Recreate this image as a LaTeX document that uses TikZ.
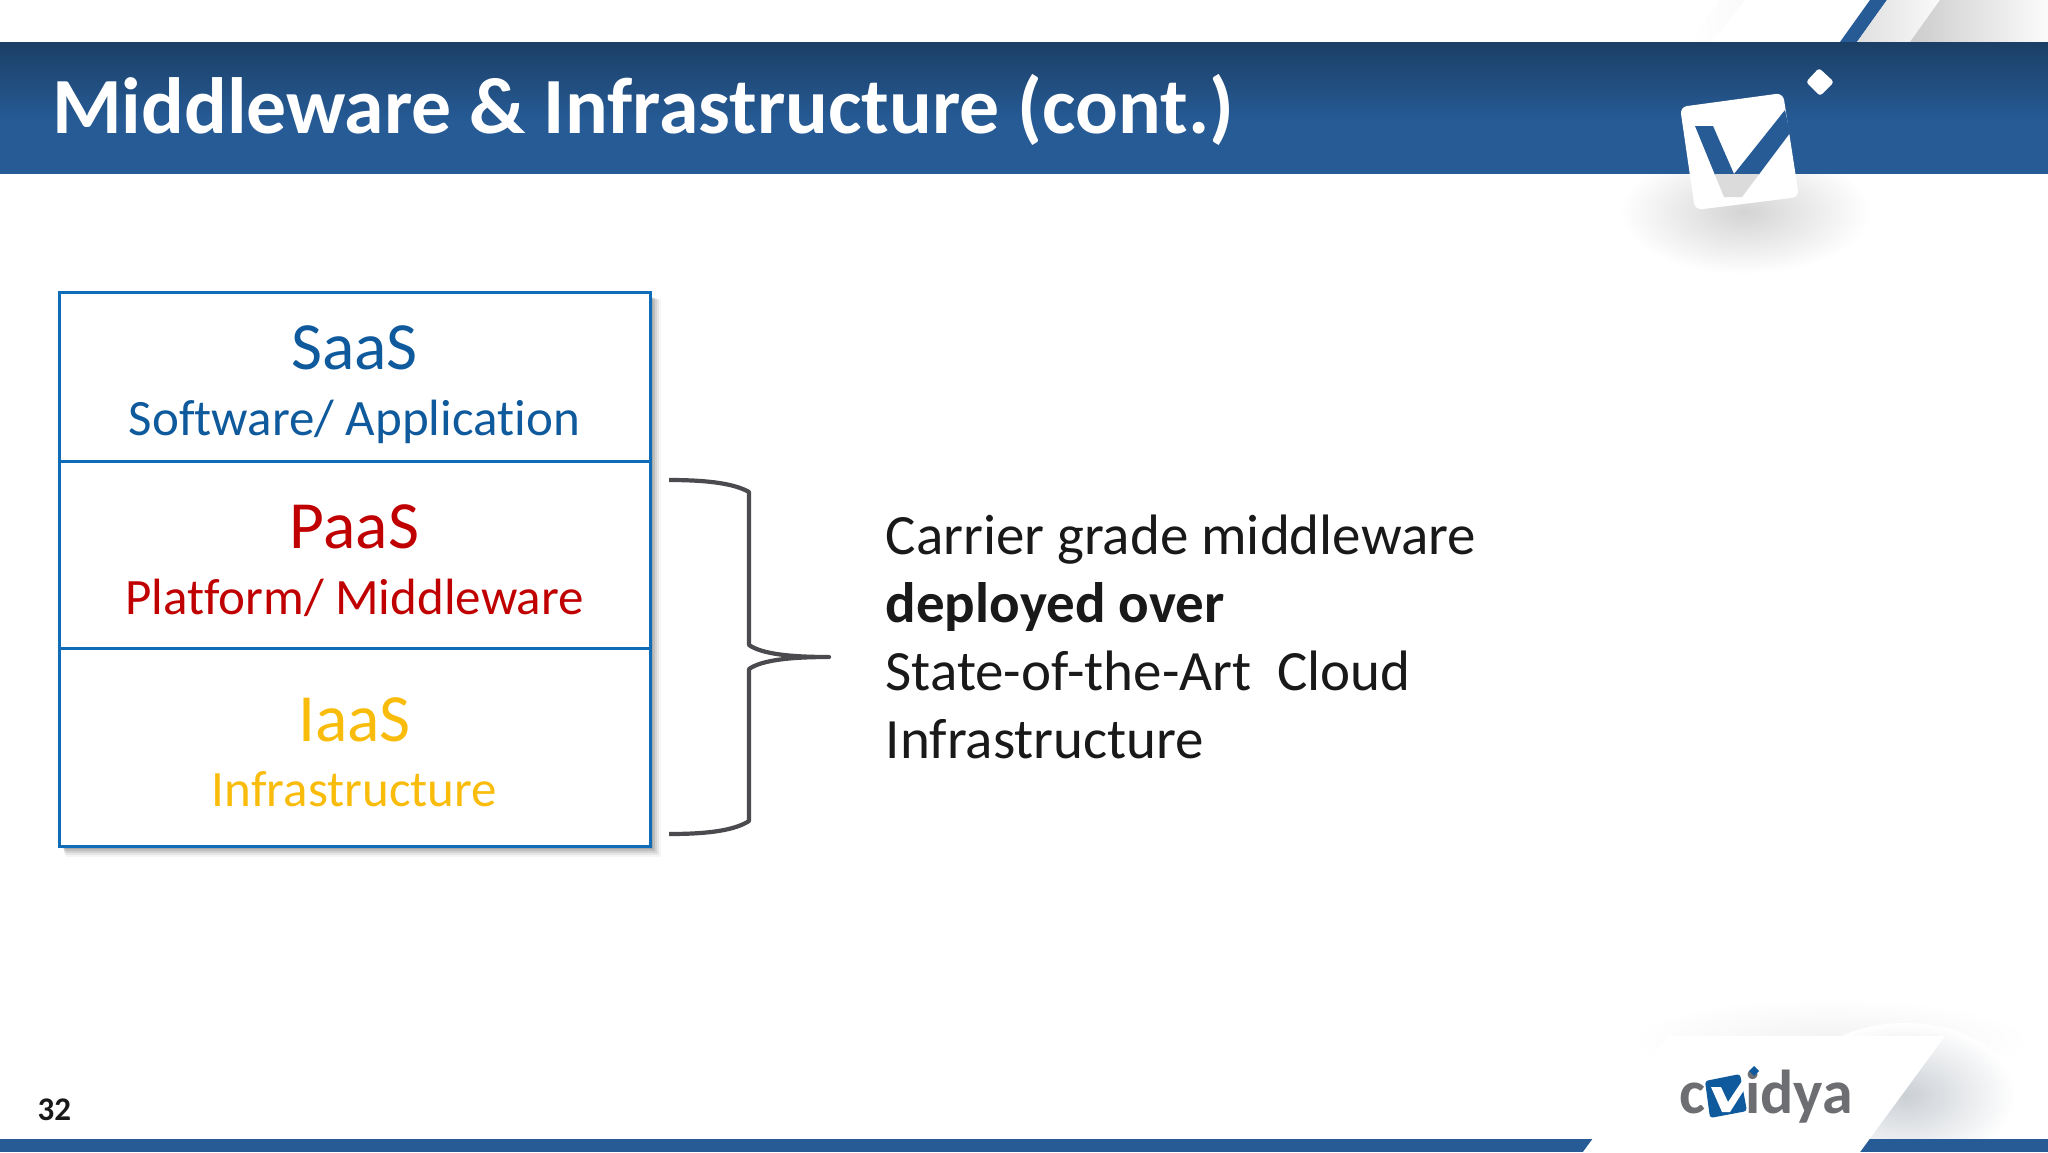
\documentclass[tikz,border=0pt]{standalone}
\usepackage{fontspec}
\setmainfont[Ligatures=NoCommon]{Carlito}
\usetikzlibrary{fadings}
\definecolor{hdrtop}{HTML}{1B3F66}
\definecolor{hdrmid}{HTML}{265B96}
\definecolor{boxline}{HTML}{0F6CB8}
\definecolor{saasc}{HTML}{0F5A9C}
\definecolor{paasc}{HTML}{C00000}
\definecolor{iaasc}{HTML}{F9BC0B}
\definecolor{bracec}{HTML}{4A4A4F}
\definecolor{logogray}{HTML}{6D6E71}
\newcommand{\fsz}[1]{\fontsize{#1}{#1}\selectfont}
\tikzset{
  x=1pt,y=-1pt,
  layerbox/.style={draw=boxline,line width=3.4pt,fill=white,inner sep=0pt},
  bigname/.style={anchor=base,font=\fsz{67.5}},
  subname/.style={anchor=base,font=\fsz{51}},
  bodytext/.style={anchor=base west,font=\fsz{57},text=black!90},
  bracepath/.style={draw=bracec,line width=4.2pt,line join=round},
}
\begin{document}
\begin{tikzpicture}
\useasboundingbox (0,0) rectangle (2048,1152);
\fill[white] (0,0) rectangle (2048,1152);
% top right streaks
\shade[left color=white,right color=gray!6] (1720,0) -- (1770,0) -- (1742,42) -- (1690,42) -- cycle;
\fill[white] (1745,0) -- (1870,0) -- (1840,42) -- (1712,42) -- cycle;
\fill[hdrmid] (1870,0) -- (1887,0) -- (1857,42) -- (1840,42) -- cycle;
\shade[left color=gray!25,right color=gray!4] (1887,0) -- (1940,0) -- (1910,42) -- (1857,42) -- cycle;
\shade[left color=gray!40,right color=gray!3] (1940,0) -- (2048,0) -- (2048,42) -- (1910,42) -- cycle;
% header band
\shade[top color=hdrtop,bottom color=hdrmid] (0,42) rectangle (2048,122);
\fill[hdrmid] (0,122) rectangle (2048,174);
% soft shadow under tick box
\begin{scope}
\clip (1560,174) rectangle (1960,290);
\shade[inner color=black!17,outer color=white] (1745,212) ellipse (125 and 62);
\end{scope}
% title
\node[anchor=base west,inner sep=0pt,font=\bfseries\fsz{79.7},text=white] (title) at (52,133) {Middleware \& Infrastructure (cont.)};
% tick box
\fill[white,rounded corners=7pt] (1680,107) -- (1783,93) -- (1799,197) -- (1695,210) -- cycle;
\begin{scope}
\clip (1600,42) rectangle (1900,174);
\fill[hdrmid] (1695,126) -- (1713,126) -- (1734,174) -- (1785,110) -- (1790,133) -- (1742,197) -- (1724,197) -- cycle;
\end{scope}
\begin{scope}
\clip (1600,174) rectangle (1900,220);
\fill[black!14] (1695,126) -- (1713,126) -- (1734,174) -- (1785,110) -- (1790,133) -- (1742,197) -- (1724,197) -- cycle;
\end{scope}
\fill[white,rounded corners=3pt] (1819,68) -- (1834,82) -- (1820,96) -- (1806,82) -- cycle;
% layered shadow of stack
\foreach \d/\o in {12/0.04,10/0.06,8/0.08,6/0.1,4/0.12,2/0.14}
  \fill[black,opacity=\o] (62+\d*0.3,296+\d*0.3) rectangle (649+\d,845+\d);
% stack
\node[layerbox,minimum width=591pt,minimum height=169pt,anchor=north west] (saas) at (58,291) {};
\node[layerbox,minimum width=591pt,minimum height=187pt,anchor=north west] (paas) at (58,460) {};
\node[layerbox,minimum width=591pt,minimum height=198pt,anchor=north west] (iaas) at (58,647) {};
\node[bigname,text=saasc] (saast) at (354.5,369.5) {SaaS};
\node[subname,text=saasc] (saass) at (354.5,435) {Software/ Application};
\node[bigname,text=paasc] (paast) at (354.5,548.5) {PaaS};
\node[subname,text=paasc] (paass) at (354.5,614) {Platform/ Middleware};
\node[bigname,text=iaasc] (iaast) at (354.5,741.5) {IaaS};
\node[subname,text=iaasc] (iaass) at (354.5,806) {Infrastructure};
% brace
\coordinate (bt) at (669,480);
\coordinate (bm) at (829,657);
\coordinate (bb) at (669,834);
\draw[bracepath] (bt) .. controls (710,480) and (735,484) .. (749,492) -- (749,645) .. controls (762,654) and (790,657) .. (bm)
  .. controls (790,657) and (762,660) .. (749,669) -- (749,821) .. controls (735,830) and (710,834) .. (bb);
% right text
\node[bodytext,inner sep=0pt] (l1) at (885.5,554.3) {Carrier grade middleware};
\node[bodytext,inner sep=0pt,font=\bfseries\fsz{57}] (l2) at (885.5,622.3) {deployed over};
\node[bodytext,inner sep=0pt] (l3) at (885.5,690.3) {State-of-the-Art\ \ Cloud};
\node[bodytext,inner sep=0pt] (l4) at (885.5,758.3) {Infrastructure};
% footer shadow
\begin{scope}
\clip (1640,990) rectangle (2048,1139);
\shade[inner color=black!5,outer color=white] (1830,1040) ellipse (200 and 42);
\shade[inner color=hdrmid!25!gray!35,outer color=white] (1905,1095) ellipse (110 and 72);
\end{scope}
% footer band and logo plate
\fill[hdrmid] (0,1139) rectangle (2048,1152);
\fill[white] (1668,1036) -- (1945,1036) -- (1860,1152) -- (1583,1152) -- cycle;
% logo
\node[anchor=base west,inner sep=0pt,font=\bfseries\fsz{62},text=logogray] (logoc) at (1679,1113) {c};
\node[anchor=base west,inner sep=0pt,font=\bfseries\fsz{62},text=logogray] (logoi) at (1745,1113) {idya};
\fill[saasc,rounded corners=3pt] (1705,1081) -- (1740,1074) -- (1747,1111) -- (1710,1118) -- cycle;
\fill[white] (1711,1087) -- (1721,1087) -- (1728,1102) -- (1742,1081) -- (1744,1090) -- (1730,1112) -- (1722,1112) -- cycle;
\fill[saasc] (1754,1066) -- (1759,1071) -- (1754,1076) -- (1749,1071) -- cycle;
% page number
\node[anchor=base west,inner sep=0pt,font=\bfseries\fsz{33},text=black!90] (pg) at (37.5,1120) {32};
\end{tikzpicture}
\end{document}
